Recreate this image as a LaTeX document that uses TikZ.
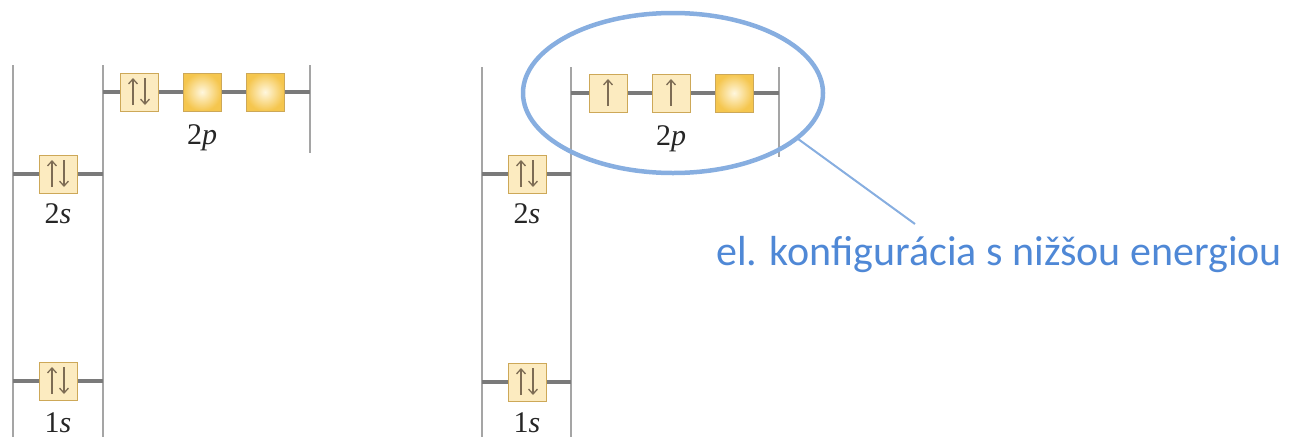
\documentclass[tikz,border=0pt]{standalone}
\usepackage{fontspec}
\setmainfont{Liberation Serif}
\newfontfamily\notefont{Carlito}
\usetikzlibrary{arrows.meta,shapes.geometric}
\definecolor{cream}{RGB}{252,235,192}
\definecolor{boxedge}{RGB}{205,168,88}
\definecolor{goldin}{RGB}{255,247,222}
\definecolor{goldout}{RGB}{245,198,78}
\definecolor{lvlgray}{RGB}{122,122,122}
\definecolor{wallgray}{RGB}{165,165,165}
\definecolor{spincol}{RGB}{125,108,84}
\definecolor{ellblue}{RGB}{135,174,224}
\definecolor{txtblue}{RGB}{79,136,214}
\tikzset{
  orb/.style={minimum size=38pt, inner sep=0pt, outer sep=0pt, draw=boxedge, line width=1pt},
  filled/.style={orb, fill=cream},
  vacant/.style={orb, inner color=goldin, outer color=goldout},
  lvl/.style={draw=lvlgray, line width=4pt},
  wall/.style={draw=wallgray, line width=1.3pt},
  spin/.style={draw=spincol, line width=1.3pt, -{Straight Barb[length=5pt,width=9pt]}},
  sublabel/.style={font=\fontsize{30}{34}\selectfont, text=black!85, anchor=base},
}
\newcommand{\upspin}[2][0pt]{\draw[spin] ([xshift=#1,yshift=-13pt]#2.center) -- ([xshift=#1,yshift=14pt]#2.center);}
\newcommand{\downspin}[2][0pt]{\draw[spin] ([xshift=#1,yshift=14pt]#2.center) -- ([xshift=#1,yshift=-13pt]#2.center);}
\begin{document}
\begin{tikzpicture}[x=1pt,y=-1pt]
\useasboundingbox (0,0) rectangle (1289,437);

% ---------- left diagram ----------
\coordinate (LwA1) at (13,65);   \coordinate (LwA2) at (13,437);
\coordinate (LwB1) at (103,65);  \coordinate (LwB2) at (103,437);
\coordinate (LwC1) at (310,65);  \coordinate (LwC2) at (310,153);
\draw[wall] (LwA1) -- (LwA2);
\draw[wall] (LwB1) -- (LwB2);
\draw[wall] (LwC1) -- (LwC2);

\coordinate (Lp0) at (103,92); \coordinate (Lp4) at (310,92);
\draw[lvl] (Lp0) -- (Lp4);
\node[filled] (Lp1) at (139,92) {};
\node[vacant] (Lp2) at (202,92) {};
\node[vacant] (Lp3) at (265,92) {};
\upspin[-6pt]{Lp1} \downspin[6pt]{Lp1}
\node[sublabel] (Lplab) at (202,144) {2\textit{p}};

\coordinate (Ls2a) at (13,174); \coordinate (Ls2b) at (103,174);
\draw[lvl] (Ls2a) -- (Ls2b);
\node[filled] (Ls2) at (58,174) {};
\upspin[-6pt]{Ls2} \downspin[6pt]{Ls2}
\node[sublabel] (Ls2lab) at (58,223) {2\textit{s}};

\coordinate (Ls1a) at (13,381); \coordinate (Ls1b) at (103,381);
\draw[lvl] (Ls1a) -- (Ls1b);
\node[filled] (Ls1) at (58,381) {};
\upspin[-6pt]{Ls1} \downspin[6pt]{Ls1}
\node[sublabel] (Ls1lab) at (58,432) {1\textit{s}};

% ---------- right diagram ----------
\coordinate (RwA1) at (482,67);  \coordinate (RwA2) at (482,437);
\coordinate (RwB1) at (571,67);  \coordinate (RwB2) at (571,437);
\coordinate (RwC1) at (779,67);  \coordinate (RwC2) at (779,157);
\draw[wall] (RwA1) -- (RwA2);
\draw[wall] (RwB1) -- (RwB2);
\draw[wall] (RwC1) -- (RwC2);

\coordinate (Rp0) at (571,93); \coordinate (Rp4) at (779,93);
\draw[lvl] (Rp0) -- (Rp4);
\node[filled] (Rp1) at (608,93) {};
\node[filled] (Rp2) at (671,93) {};
\node[vacant] (Rp3) at (734,93) {};
\upspin{Rp1}
\upspin{Rp2}
\node[sublabel] (Rplab) at (671,145) {2\textit{p}};

\coordinate (Rs2a) at (482,174); \coordinate (Rs2b) at (571,174);
\draw[lvl] (Rs2a) -- (Rs2b);
\node[filled] (Rs2) at (527,174) {};
\upspin[-6pt]{Rs2} \downspin[6pt]{Rs2}
\node[sublabel] (Rs2lab) at (527,223) {2\textit{s}};

\coordinate (Rs1a) at (482,382); \coordinate (Rs1b) at (571,382);
\draw[lvl] (Rs1a) -- (Rs1b);
\node[filled] (Rs1) at (527,382) {};
\upspin[-6pt]{Rs1} \downspin[6pt]{Rs1}
\node[sublabel] (Rs1lab) at (527,432) {1\textit{s}};

% ---------- highlight and note ----------
\node[ellipse, draw=ellblue, line width=4.5pt, minimum width=300pt, minimum height=160pt,
      inner sep=0pt, outer sep=0pt] (hl) at (673,93) {};
\node[anchor=base west, inner sep=0pt, text=txtblue,
      font=\notefont\fontsize{42}{48}\selectfont] (note) at (716,265)
      {el. konfigurácia s nižšou energiou};
\coordinate (noteend) at (915,224);
\draw[draw=ellblue, line width=2pt] (hl.-20.6) -- (noteend);
\end{tikzpicture}
\end{document}
